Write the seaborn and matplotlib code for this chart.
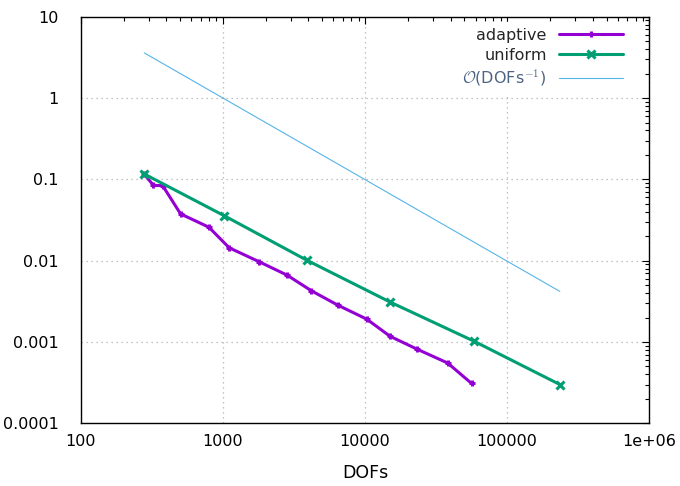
import numpy as np
import pandas as pd
import matplotlib
matplotlib.use('Agg')
import matplotlib.pyplot as plt
import seaborn as sns

# values
adaptive_dofs = [277, 325, 377, 504, 797, 1108, 1800, 2830, 4180, 6430,
                 10280, 15000, 23340, 38100, 56200]
adaptive_err = [0.1175, 0.0844, 0.0837, 0.0376, 0.0258, 0.0144, 0.0097,
                0.00664, 0.00428, 0.00284, 0.00191, 0.001175, 0.000813,
                0.000552, 0.000309]
uniform_dofs = [277, 1016, 3890, 15000, 58600, 234500]
uniform_err = [0.1175, 0.0359, 0.01014, 0.0031, 0.00102, 0.0003]
ref_dofs = [280, 234500]
ref_err = [3.59, 0.00419]

xticks = [100, 1000, 10000, 100000, 1000000]
xtick_labels = ['100', '1000', '10000', '100000', '1e+06']
yticks = [0.0001, 0.001, 0.01, 0.1, 1, 10]
ytick_labels = ['0.0001', '0.001', '0.01', '0.1', '1', '10']

sns.set_theme(style='white')
plt.rcParams['font.family'] = ['DejaVu Sans']
plt.rcParams['mathtext.fontset'] = 'cm'

fig = plt.figure(figsize=(6.8, 4.86), dpi=100)
ax = fig.add_axes([0.1187, 0.129, 0.8362, 0.8366])

df_a = pd.DataFrame({'dofs': adaptive_dofs, 'err': adaptive_err})
df_u = pd.DataFrame({'dofs': uniform_dofs, 'err': uniform_err})
df_r = pd.DataFrame({'dofs': ref_dofs, 'err': ref_err})

sns.lineplot(data=df_a, x='dofs', y='err', ax=ax, sort=False, color='#9400D3',
             lw=2.2, marker='+', markersize=5, mew=2.2, mec='#9400D3',
             label='adaptive')
sns.lineplot(data=df_u, x='dofs', y='err', ax=ax, sort=False, color='#009E73',
             lw=2.2, marker='x', markersize=6, mew=2.2, mec='#009E73',
             label='uniform')
sns.lineplot(data=df_r, x='dofs', y='err', ax=ax, sort=False, color='#56B4E9',
             lw=0.8, label=r'$\mathcal{O}$(DOFs$^{-1}$)')

ax.set_xscale('log')
ax.set_yscale('log')
ax.set_xlim(100, 1e6)
ax.set_ylim(0.0001, 10)
ax.set_xticks(xticks, xtick_labels)
ax.set_yticks(yticks, ytick_labels)
ax.set_xlabel('DOFs', fontsize=12.5, color='black', labelpad=10.5)
ax.set_ylabel('')

ax.grid(True, which='major', color='#b0b0b0', linestyle=(0, (1, 3)), lw=0.9)
ax.tick_params(which='both', direction='in', top=True, right=True,
               labelsize=11.5, colors='black')
ax.tick_params(which='major', length=5, width=0.8)
ax.tick_params(which='minor', length=3, width=0.8)
ax.tick_params(axis='x', which='major', pad=8)
ax.tick_params(axis='y', which='major', pad=16)
for s in ax.spines.values():
    s.set_color('black')
    s.set_linewidth(1)

leg = ax.legend(loc='upper right', bbox_to_anchor=(0.974, 1.0),
                markerfirst=False, frameon=True,
                fontsize=11.5, handlelength=4.0, borderaxespad=0.3,
                labelspacing=0.3, handletextpad=0.8, fancybox=False)
leg.get_frame().set_edgecolor('white')
leg.get_frame().set_alpha(1)
leg.get_texts()[2].set_color('#4c6384')
for h in leg.legend_handles[:2]:
    h.set_markevery([1])

fig.savefig('out.png', dpi=100)
